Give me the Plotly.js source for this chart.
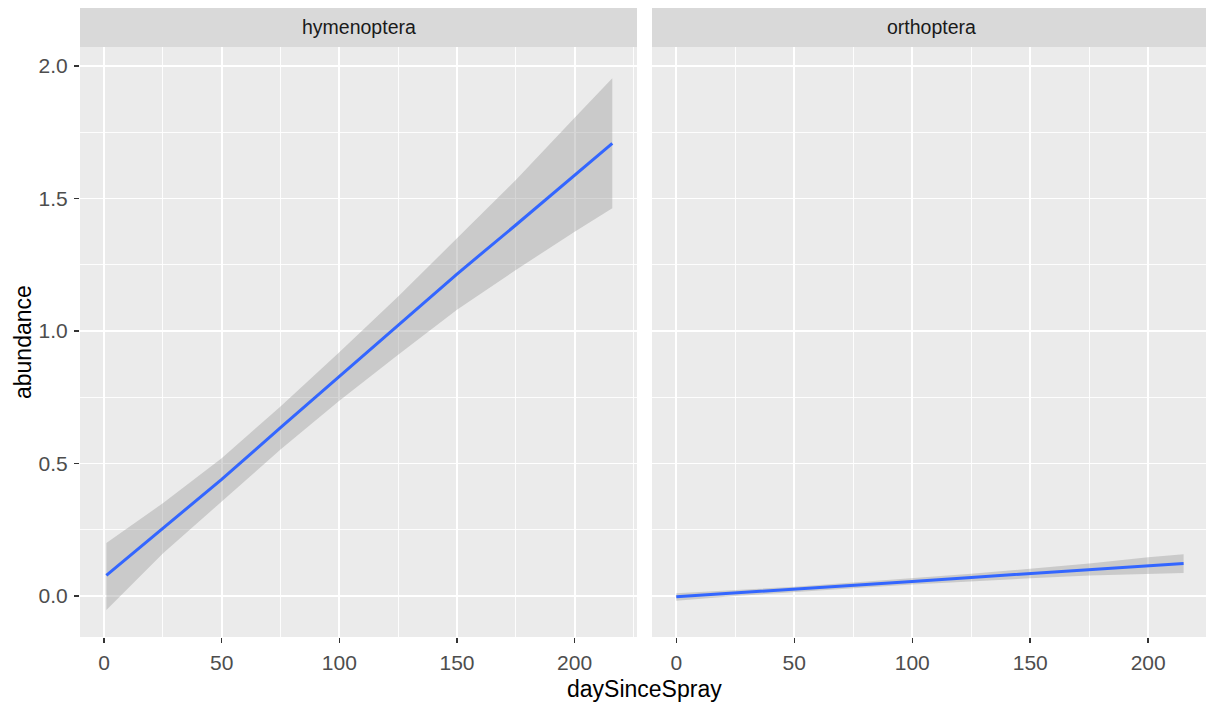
<!DOCTYPE html>
<html>
<head>
<meta charset="utf-8">
<script src="https://cdn.plot.ly/plotly-3.0.1.min.js"></script>
<style>html,body{margin:0;padding:0;background:#fff;}#chart{width:1206px;height:706px;}</style>
</head>
<body>
<div id="chart"></div>
<script>
// hymenoptera smooth fit
const hymX     = [1, 25, 50, 75, 100, 125, 150, 175, 200, 216];
const hymFit   = [0.078, 0.255, 0.440, 0.635, 0.828, 1.020, 1.215, 1.400, 1.590, 1.708];
const hymLower = [-0.053, 0.160, 0.358, 0.553, 0.737, 0.910, 1.080, 1.230, 1.375, 1.463];
const hymUpper = [0.200, 0.350, 0.520, 0.715, 0.920, 1.130, 1.350, 1.570, 1.805, 1.954];

// orthoptera smooth fit
const orthX     = [0, 25, 50, 75, 100, 125, 150, 175, 200, 215];
const orthFit   = [-0.003, 0.011, 0.025, 0.040, 0.055, 0.070, 0.085, 0.100, 0.115, 0.123];
const orthLower = [-0.018, 0.000, 0.015, 0.029, 0.043, 0.056, 0.067, 0.077, 0.084, 0.087];
const orthUpper = [0.010, 0.022, 0.035, 0.051, 0.067, 0.084, 0.103, 0.123, 0.146, 0.158];

const facets = ["hymenoptera", "orthoptera"];
const xTitle = "daySinceSpray";
const yTitle = "abundance";

function ribbon(x, lo, hi, xa, ya) {
  return {
    x: x.concat(x.slice().reverse()),
    y: hi.concat(lo.slice().reverse()),
    xaxis: xa, yaxis: ya,
    type: 'scatter', mode: 'lines', fill: 'toself',
    fillcolor: 'rgba(153,153,153,0.4)', line: {width: 0, color: 'rgba(0,0,0,0)'},
    hoverinfo: 'skip', showlegend: false
  };
}
function fitLine(x, y, xa, ya) {
  return {
    x: x, y: y, xaxis: xa, yaxis: ya,
    type: 'scatter', mode: 'lines',
    line: {color: '#3366FF', width: 3}, showlegend: false
  };
}

const data = [
  ribbon(hymX, hymLower, hymUpper, 'x', 'y'),
  fitLine(hymX, hymFit, 'x', 'y'),
  ribbon(orthX, orthLower, orthUpper, 'x2', 'y2'),
  fitLine(orthX, orthFit, 'x2', 'y2')
];

const W = 1206, H = 706;
const pL1 = 80, pR1 = 637, pL2 = 652, pR2 = 1206;
const pTop = 47, pBot = 637, sTop = 8;
const yDom = [(H - pBot) / H, (H - pTop) / H];

const fontFam = '"Liberation Sans", Arial, sans-serif';
const tickFont = {family: fontFam, size: 21, color: '#4D4D4D'};

function xAxis(domain, range, anchor) {
  return {
    domain: domain, range: range, anchor: anchor, showline: false, zeroline: false,
    tickmode: 'linear', tick0: 0, dtick: 50,
    ticks: 'outside', ticklen: 5, tickwidth: 1.5, tickcolor: '#333333',
    ticklabelstandoff: 2,
    tickfont: tickFont,
    showgrid: true, gridcolor: '#FFFFFF', gridwidth: 1.8,
    minor: {dtick: 25, showgrid: true, gridcolor: '#FFFFFF', gridwidth: 0.9, ticks: ''},
    fixedrange: true
  };
}
function yAxis(anchor, labels) {
  return {
    domain: yDom, range: [-0.1547, 2.0717], anchor: anchor, showline: false, zeroline: false,
    tickmode: 'linear', tick0: 0, dtick: 0.5, tickformat: '.1f',
    showticklabels: labels,
    ticks: labels ? 'outside' : '', ticklen: 5, tickwidth: 1.5, tickcolor: '#333333',
    ticklabelstandoff: 2,
    tickfont: tickFont,
    showgrid: true, gridcolor: '#FFFFFF', gridwidth: 1.8,
    minor: {dtick: 0.25, showgrid: true, gridcolor: '#FFFFFF', gridwidth: 0.9, ticks: ''},
    fixedrange: true
  };
}

const shapes = [
  {type: 'rect', xref: 'paper', yref: 'paper', x0: pL1 / W, x1: pR1 / W, y0: yDom[0], y1: yDom[1],
   fillcolor: '#EBEBEB', line: {width: 0}, layer: 'below'},
  {type: 'rect', xref: 'paper', yref: 'paper', x0: pL2 / W, x1: pR2 / W, y0: yDom[0], y1: yDom[1],
   fillcolor: '#EBEBEB', line: {width: 0}, layer: 'below'},
  {type: 'rect', xref: 'paper', yref: 'paper', x0: pL1 / W, x1: pR1 / W, y0: yDom[1], y1: (H - sTop) / H,
   fillcolor: '#D9D9D9', line: {width: 0}},
  {type: 'rect', xref: 'paper', yref: 'paper', x0: pL2 / W, x1: pR2 / W, y0: yDom[1], y1: (H - sTop) / H,
   fillcolor: '#D9D9D9', line: {width: 0}}
];

const stripY = (H - (sTop + pTop) / 2) / H;
const stripFont = {family: fontFam, size: 19.5, color: '#1A1A1A'};
const titleFont = {family: fontFam, size: 23, color: '#000000'};
const annotations = [
  {text: facets[0], xref: 'paper', yref: 'paper', x: (pL1 + pR1) / 2 / W, y: stripY,
   showarrow: false, xanchor: 'center', yanchor: 'middle', font: stripFont},
  {text: facets[1], xref: 'paper', yref: 'paper', x: 931 / W, y: stripY,
   showarrow: false, xanchor: 'center', yanchor: 'middle', font: stripFont},
  {text: xTitle, xref: 'paper', yref: 'paper', x: 644 / W, y: (H - 689) / H,
   showarrow: false, xanchor: 'center', yanchor: 'middle', font: titleFont},
  {text: yTitle, xref: 'paper', yref: 'paper', x: 23 / W, y: (H - 342) / H,
   showarrow: false, xanchor: 'center', yanchor: 'middle', textangle: -90, font: titleFont}
];

const layout = {
  width: W, height: H,
  margin: {l: 0, r: 0, t: 0, b: 0, pad: 0},
  paper_bgcolor: '#FFFFFF', plot_bgcolor: 'rgba(0,0,0,0)',
  showlegend: false,
  xaxis: xAxis([pL1 / W, pR1 / W], [-10.2, 226.5], 'y'),
  yaxis: yAxis('x', true),
  xaxis2: xAxis([pL2 / W, pR2 / W], [-10.3, 224.5], 'y2'),
  yaxis2: yAxis('x2', false),
  shapes: shapes, annotations: annotations
};

Plotly.newPlot('chart', data, layout, {staticPlot: true, displayModeBar: false});
</script>
</body>
</html>
